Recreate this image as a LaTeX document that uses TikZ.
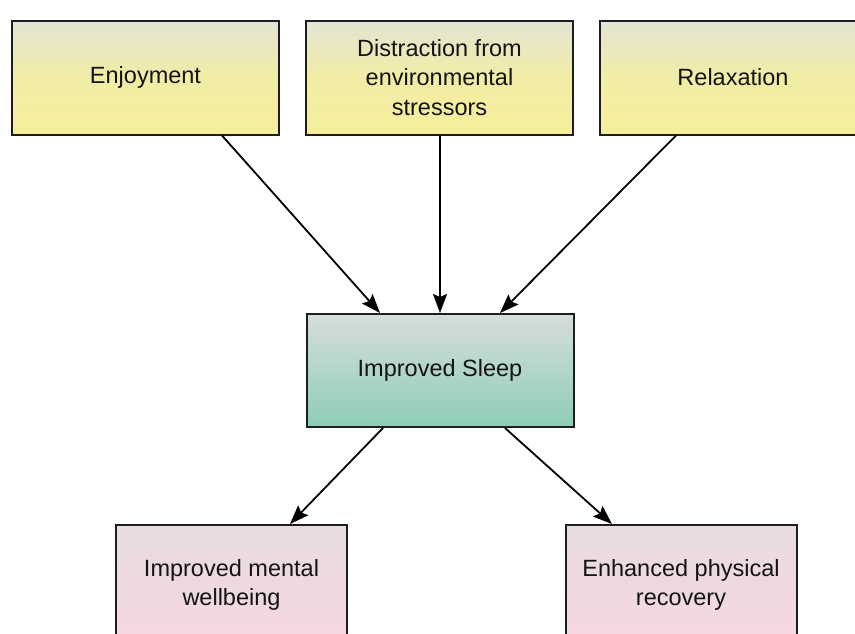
\documentclass[tikz,border=0pt]{standalone}
\usepackage{fontspec}
\setmainfont{Liberation Sans}
\usetikzlibrary{arrows.meta}
\definecolor{ylwtop}{HTML}{E4E4D4}
\definecolor{ylwbot}{HTML}{F5EF9A}
\definecolor{tealtop}{HTML}{D6DEDA}
\definecolor{tealbot}{HTML}{8ECDB5}
\definecolor{pinktop}{HTML}{E8DCE1}
\definecolor{pinkbot}{HTML}{F5D6E1}
\definecolor{edge}{HTML}{1E1E1E}
\tikzset{
  box/.style={draw=edge, line width=2pt, minimum width=267pt, align=center,
    font=\fontsize{23.5}{29.5}\selectfont, text=black!92, inner sep=0pt},
  cause/.style={box, minimum height=114pt, top color=ylwtop, bottom color=ylwbot,
    middle color=ylwbot!80!ylwtop},
  hub/.style={box, minimum height=113pt, top color=tealtop, bottom color=tealbot},
  effect/.style={box, minimum width=231pt, minimum height=120pt, top color=pinktop, bottom color=pinkbot},
  link/.style={line width=1.8pt, draw=black, -{Stealth[length=19pt,width=14pt,inset=3pt]}}
}
\begin{document}
\begin{tikzpicture}[x=1pt,y=-1pt]
  \useasboundingbox (0,0) rectangle (855,633);
  \clip (0,0) rectangle (855,633);
  \node[cause] (enjoy) at (145.5,77.5) {Enjoyment};
  \node[cause] (distract) at (439.5,77.5) {Distraction from\\environmental\\stressors};
  \node[cause] (relax) at (733,77.5) {Relaxation};
  \node[hub] (sleep) at (440,370.5) {Improved Sleep};
  \node[effect] (mental) at (231.5,585) {Improved mental\\wellbeing};
  \node[effect] (physical) at (681,585) {Enhanced physical\\recovery};
  \draw[link] (enjoy.south -| 222,0) -- (sleep.north -| 380,0);
  \draw[link] (distract.south -| 440,0) -- (sleep.north -| 440,0);
  \draw[link] (relax.south -| 676,0) -- (sleep.north -| 500,0);
  \draw[link] (sleep.south -| 383,0) -- (mental.north -| 290,0);
  \draw[link] (sleep.south -| 505,0) -- (physical.north -| 612,0);
\end{tikzpicture}
\end{document}
